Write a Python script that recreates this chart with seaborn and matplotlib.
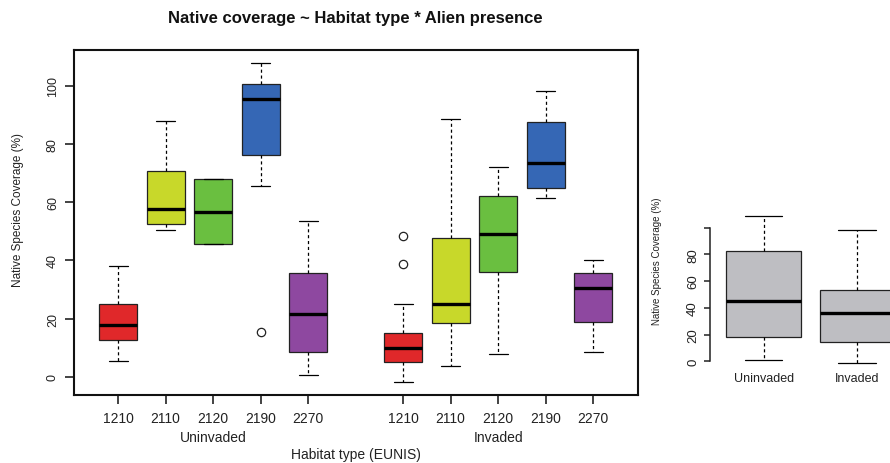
import numpy as np
import pandas as pd
import matplotlib
matplotlib.use("Agg")
import matplotlib.pyplot as plt
import matplotlib.transforms as mtransforms
import seaborn as sns

habitats = ["1210", "2110", "2120", "2190", "2270"]
groups = ["Uninvaded", "Invaded"]
palette = ["#E0282A", "#C8D82A", "#6ABF40", "#3567B5", "#8E48A0"]

# box summaries: whisker low, Q1, median, Q3, whisker high
uninv_low = [5.3, 50.3, 45.6, 65.6, 0.6]
uninv_q1 = [12.6, 52.5, 45.6, 76.3, 8.4]
uninv_med = [17.9, 57.8, 56.7, 95.4, 21.7]
uninv_q3 = [25.2, 70.6, 67.9, 100.7, 35.7]
uninv_high = [37.9, 87.9, 67.9, 107.9, 53.5]
uninv_out = [[], [], [], [15.4], []]

inv_low = [-1.8, 3.6, 7.7, 61.3, 8.6]
inv_q1 = [5.0, 18.5, 36.1, 64.9, 19.0]
inv_med = [10.0, 25.2, 49.2, 73.3, 30.5]
inv_q3 = [15.2, 47.7, 62.2, 87.5, 35.7]
inv_high = [25.1, 88.4, 72.2, 98.2, 40.2]
inv_out = [[38.8, 48.3], [], [], [], []]

# pooled over habitats (right panel)
pool_low = [0.7, -1.5]
pool_q1 = [18.2, 14.2]
pool_med = [45.3, 36.4]
pool_q3 = [82.7, 53.3]
pool_high = [108.4, 98.4]


def expand(lo, q1, med, q3, hi, out=()):
    """sample whose quartiles / whisker ends give back the summary"""
    return [lo] + [q1] * 10 + [med] * 10 + [q3] * 10 + [hi] + list(out)


rows = []
for i, h in enumerate(habitats):
    for v in expand(uninv_low[i], uninv_q1[i], uninv_med[i], uninv_q3[i], uninv_high[i], uninv_out[i]):
        rows.append({"pos": i + 1, "habitat": h, "value": v})
    for v in expand(inv_low[i], inv_q1[i], inv_med[i], inv_q3[i], inv_high[i], inv_out[i]):
        rows.append({"pos": i + 7, "habitat": h, "value": v})
df = pd.DataFrame(rows)

rows = []
for i, g in enumerate(groups):
    for v in expand(pool_low[i], pool_q1[i], pool_med[i], pool_q3[i], pool_high[i]):
        rows.append({"group": g, "value": v})
pooled = pd.DataFrame(rows)

sns.set_theme(style="ticks")
plt.rcParams["font.family"] = ["Liberation Sans", "DejaVu Sans"]

W, H = 890, 464
fig = plt.figure(figsize=(8.9, 4.64), dpi=100)
fig.patch.set_facecolor("white")

box_kws = dict(
    linecolor="#222222", linewidth=0.9, saturation=1, width=0.8,
    whiskerprops=dict(linestyle=(0, (2.5, 2.2)), color="black"),
    capprops=dict(color="black"),
    medianprops=dict(linewidth=2.4, color="black"),
    flierprops=dict(marker="o", markerfacecolor="none", markeredgecolor="#222222",
                    markersize=6, markeredgewidth=0.9),
)

# ---- left panel
ax = fig.add_axes([73.5 / W, (H - 396) / H, 564.2 / W, 345.3 / H])
sns.boxplot(data=df, x="pos", y="value", hue="habitat", hue_order=habitats,
            palette=palette, native_scale=True, dodge=False, legend=False,
            ax=ax, **box_kws)
ax.set_xlim(0.06, 11.94)
ax.set_ylim(-6.2, 112.3)
ax.set_xticks([1, 2, 3, 4, 5, 7, 8, 9, 10, 11])
ax.set_xticklabels(habitats * 2)
ax.set_yticks(range(0, 101, 20))
ax.set_yticklabels([str(v) for v in range(0, 101, 20)])
ax.set_xlabel("")
ax.set_ylabel("")
for s in ax.spines.values():
    s.set_linewidth(1.5)
    s.set_color("#111111")
ax.tick_params(axis="x", length=6.5, width=1.2, pad=5, labelsize=10, colors="#222222")
ax.tick_params(axis="y", length=6.5, width=1.2, pad=4, labelsize=9, colors="#222222")
plt.setp(ax.get_yticklabels(), rotation=90, va="center")
trans = mtransforms.blended_transform_factory(ax.transData, ax.transAxes)
ax.text(3, -0.122, "Uninvaded", transform=trans, ha="center", va="center", fontsize=10, color="#222222")
ax.text(9, -0.122, "Invaded", transform=trans, ha="center", va="center", fontsize=10, color="#222222")
ax.text(0.5, -0.172, "Habitat type (EUNIS)", transform=ax.transAxes, ha="center", va="center",
        fontsize=10, color="#222222")
fig.text(18.3 / W, 1 - 210 / H, "Native Species Coverage (%)", rotation=90, ha="center",
         va="center", fontsize=8.5, color="#222222")
fig.text(355 / W, 1 - 18.3 / H, "Native coverage ~ Habitat type * Alien presence", ha="center",
         va="center", fontsize=12, fontweight="bold", color="#111111",
         family=["Liberation Sans Narrow", "Liberation Sans", "DejaVu Sans"])

# ---- right panel
ax2 = fig.add_axes([709.6 / W, (H - 370.2) / H, (911 - 709.6) / W, (370.2 - 211.4) / H])
sns.boxplot(data=pooled, x="group", y="value", order=groups, color="#BEBEC2", ax=ax2, **box_kws)
ax2.set_xlim(-0.58, 1.58)
ax2.set_ylim(-5.9, 112.8)
ax2.set_yticks(range(0, 101, 20))
ax2.set_yticklabels(["0", "20", "40", "60", "80", ""])
ax2.set_xlabel("")
ax2.set_ylabel("")
for k in ["top", "right", "bottom"]:
    ax2.spines[k].set_visible(False)
ax2.spines["left"].set_bounds(0, 100)
ax2.spines["left"].set_linewidth(1.1)
ax2.spines["left"].set_color("#222222")
ax2.tick_params(axis="y", length=4.5, width=1.1, pad=3, labelsize=9.5, colors="#222222")
ax2.tick_params(axis="x", length=0, pad=2, labelsize=9, colors="#222222")
plt.setp(ax2.get_yticklabels(), rotation=90, va="center")
fig.text(657.5 / W, 1 - 261.5 / H, "Native Species Coverage (%)", rotation=90, ha="center",
         va="center", fontsize=7, color="#222222")

fig.savefig("out.png", dpi=100)
